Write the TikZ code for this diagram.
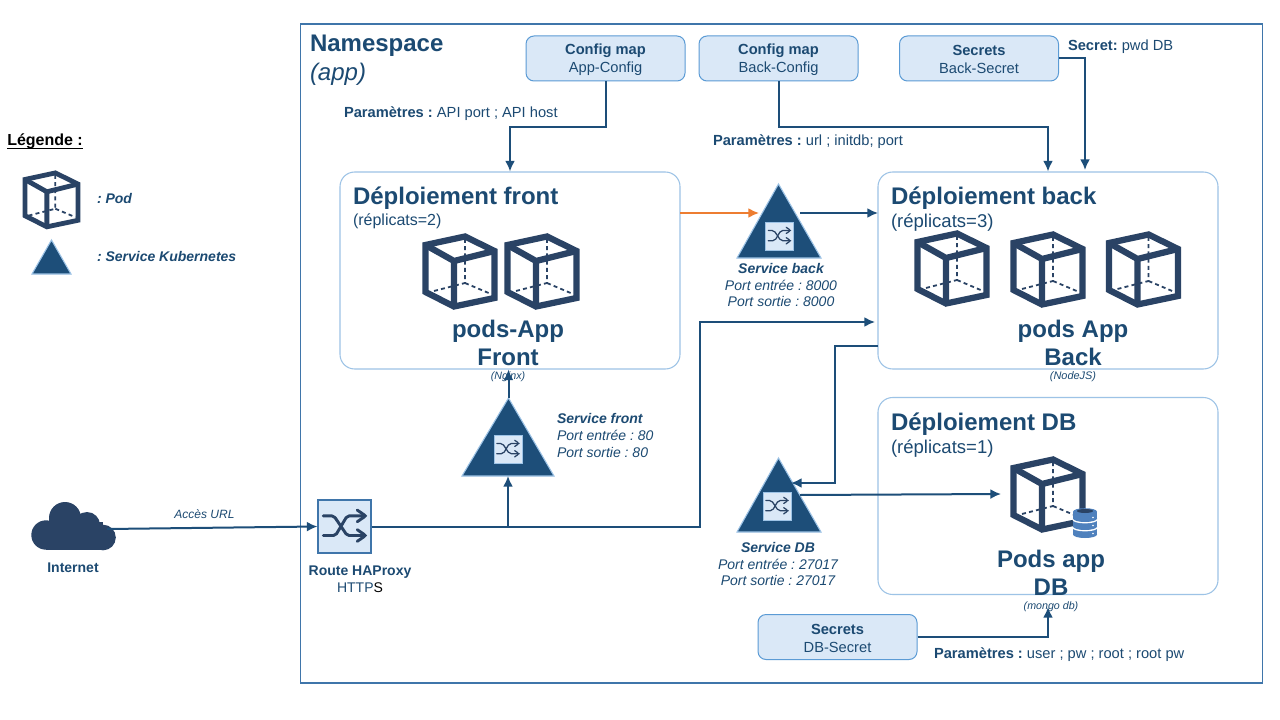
\documentclass[tikz,border=0pt]{standalone}
\usepackage{fontspec}
\setmainfont{Liberation Sans}
\usetikzlibrary{arrows.meta,calc}
\definecolor{ink}{HTML}{1C4A72}
\definecolor{podc}{HTML}{2A4365}
\definecolor{arrowc}{HTML}{1D4E79}
\definecolor{pale}{HTML}{DAE8F7}
\definecolor{edgeb}{HTML}{5B9BD5}
\definecolor{lightb}{HTML}{9DC3E6}
\definecolor{nsb}{HTML}{3F75AA}
\definecolor{orangec}{HTML}{ED7D31}
\definecolor{dbc}{HTML}{4F81BD}
\def\px{0.75pt}
\newcommand{\fsz}[2]{\fontsize{#1}{#2}\selectfont}
\newcommand{\lift}{\rule{0pt}{9.5pt}}
\frenchspacing
\tikzset{
  x=0.75pt,y=-0.75pt,
  txt/.style={text=ink,inner sep=0pt,outer sep=0pt},
  smallbox/.style={draw=edgeb,fill=pale,line width=0.75pt,rounded corners=6pt,minimum width=159*\px,minimum height=45*\px,inner sep=0pt,align=center,text=ink,font=\fsz{11}{13.5}},
  bigbox/.style={draw=lightb,fill=white,line width=0.8pt,rounded corners=11pt,minimum width=340*\px,inner sep=0pt},
  link/.style={draw=arrowc,line width=1.5pt,-{Latex[length=8pt,width=7.5pt]}},
  tri/.style={fill=arrowc,draw=lightb,line width=0.8pt,line join=miter},
  smallshuffle/.style={draw=lightb,fill=pale,line width=0.7pt,minimum size=28*\px,inner sep=0pt},
  cubepic/.pic={
    \begin{scope}[podc,line join=miter]
      \draw[line width=\pgfkeysvalueof{/tikz/cubelw}] (2.5,11)--(42,2.5)--(71.5,17)--(71.5,64)--(31,72.5)--(2.5,58)--cycle;
      \draw[line width=\pgfkeysvalueof{/tikz/cubelw}] (2.5,11)--(31,27)--(71.5,17) (31,27)--(31,72.5);
      \draw[line width=1.35pt,dash pattern=on 3pt off 2.4pt] (42,5)--(42,49)--(7,58) (42,49)--(68,60);
    \end{scope}
  },
  cubelw/.initial=4.7pt,
  shufflepic/.pic={
    \begin{scope}[podc,line cap=round,line join=round,rounded corners=1.5pt,line width=\pgfkeysvalueof{/tikz/shufflelw}]
      \draw (-.40,-.20)--(-.20,-.20)--(.05,.17)--(.40,.17);
      \draw (-.40,.17)--(-.17,.17)--(.05,-.20)--(.40,-.20);
      \draw (.24,-.31)--(.40,-.20)--(.24,-.09);
      \draw (.24,.06)--(.40,.17)--(.24,.28);
    \end{scope}
  },
  shufflelw/.initial=0.95pt,
}
\begin{document}
\begin{tikzpicture}
\useasboundingbox (0,0) rectangle (1280,720);
\fill[white] (0,0) rectangle (1280,720);

% namespace
\node[draw=nsb,line width=1pt,minimum width=962*\px,minimum height=659*\px,inner sep=0pt] (ns) at (781.5,353.5) {};
\node[txt,anchor=base west,font=\bfseries\fsz{18}{20}] (nstitle) at (310,51.5) {Namespace};
\node[txt,anchor=base west,font=\itshape\fsz{18}{20}] (nssub) at (310,80.5) {(app)};

% legend
\node[inner sep=0pt,anchor=base west,font=\bfseries\fsz{12}{14}] (legend) at (7,146) {Légende :};
\draw[black,line width=0.8pt] ($(legend.base west)+(0,2.5)$) -- ($(legend.base east)+(0,2.5)$);
\pic[scale=0.77,cubelw=3.6pt] at (23,171) {cubepic};
\node[txt,anchor=west,font=\bfseries\itshape\fsz{10.5}{12}] (legpod) at (97,198) {: Pod};
\draw[tri] (51.5,240)--(71,274)--(32,274)--cycle;
\node[txt,anchor=west,font=\bfseries\itshape\fsz{10.5}{12}] (legsvc) at (97,256) {: Service Kubernetes};

% top boxes
\node[smallbox] (cfgapp) at (605.5,58.5) {\lift\textbf{Config map}\\App-Config};
\node[smallbox] (cfgback) at (778.5,58.5) {\lift\textbf{Config map}\\Back-Config};
\node[smallbox] (secback) at (979,58.5) {\lift\textbf{Secrets}\\Back-Secret};
\node[smallbox] (secdb) at (837.5,637) {\lift\textbf{Secrets}\\DB-Secret};

% deployment boxes
\node[bigbox,minimum height=197*\px] (front) at (510,270.5) {};
\node[bigbox,minimum height=197*\px] (back) at (1048,270.5) {};
\node[bigbox,minimum height=197*\px] (db) at (1048,496) {};

\node[txt,anchor=base west,font=\bfseries\fsz{18}{20}] (fronttitle) at (353,205) {Déploiement front};
\node[txt,anchor=base west,font=\fsz{12}{14}] (frontsub) at (353,225) {(réplicats=2)};
\node[txt,anchor=base west,font=\bfseries\fsz{18}{20}] (backtitle) at (891,205) {Déploiement back};
\node[txt,anchor=base west,font=\fsz{13.9}{16}] (backsub) at (891,228) {(réplicats=3)};
\node[txt,anchor=base west,font=\bfseries\fsz{18}{20}] (dbtitle) at (891,430) {Déploiement DB};
\node[txt,anchor=base west,font=\fsz{13.9}{16}] (dbsub) at (891,453) {(réplicats=1)};

% pods
\pic at (423,234) {cubepic};
\pic at (505,234) {cubepic};
\pic at (915,231) {cubepic};
\pic at (1011,232) {cubepic};
\pic at (1106.5,232) {cubepic};
\pic at (1011,457) {cubepic};

% database icon
\foreach \yy in {534.5,526.5,518.5}{
  \fill[white] (1085,\yy+1.2) ellipse[x radius=12.6,y radius=3.7];
  \fill[dbc] (1085,\yy) ellipse[x radius=12,y radius=3.5];
  \fill[dbc] (1073,\yy-6.8) rectangle (1097,\yy);
  \fill[dbc] (1085,\yy-6.8) ellipse[x radius=12,y radius=3.5];
  \fill[white] (1093,\yy-1) circle[radius=.9];
}
\fill[podc] (1085,511) ellipse[x radius=8,y radius=2];

\node[txt,align=center,font=\bfseries\fsz{18}{21}] (fronttxt) at (508,342.5) {pods-App\\Front};
\node[txt,align=center,font=\bfseries\fsz{18}{21}] (backtxt) at (1073,342.5) {pods App\\Back};
\node[txt,align=center,font=\bfseries\fsz{18}{21}] (dbtxt) at (1051,572.5) {Pods app\\DB};
\node[txt,font=\itshape\fsz{8}{9}] (nginx) at (508,377) {(Nginx)};
\node[txt,font=\itshape\fsz{8.2}{9}] (nodejs) at (1073,377) {(NodeJS)};
\node[txt,font=\itshape\fsz{8}{9}] (mongo) at (1051,607) {(mongo db)};

% services
\draw[tri] (778.5,184)--(821,258)--(737,258)--cycle;
\node[smallshuffle] (svcback) at (779.5,236) {};
\pic[scale=28] at (svcback) {shufflepic};
\draw[tri] (508.5,398)--(554,476)--(462,476)--cycle;
\node[smallshuffle] (svcfront) at (508,449) {};
\pic[scale=28] at (svcfront) {shufflepic};
\draw[tri] (778.5,458)--(821,532)--(737,532)--cycle;
\node[smallshuffle] (svcdb) at (777,506) {};
\pic[scale=28] at (svcdb) {shufflepic};

\node[txt,align=center,font=\itshape\fsz{10.5}{12.4}] (svcbacktxt) at (781,285) {\textbf{Service back}\\Port entrée : 8000\\Port sortie : 8000};
\node[txt,align=left,anchor=west,font=\itshape\fsz{10.5}{12.9}] (svcfronttxt) at (557,435.5) {\textbf{Service front}\\Port entrée : 80\\Port sortie : 80};
\node[txt,align=center,font=\itshape\fsz{10.5}{12.4}] (svcdbtxt) at (778,564) {\textbf{Service DB}\\Port entrée : 27017\\Port sortie : 27017};

% route
\node[draw=nsb,fill=pale,line width=0.8pt,minimum size=53*\px,inner sep=0pt] (route) at (344.5,526.5) {};
\pic[scale=53,shufflelw=2.2pt] at (route) {shufflepic};
\node[txt,align=center,font=\fsz{10.5}{13}] (routetxt) at (360,579) {\textbf{Route HAProxy}\\HTTP{\color{black}S}};

% internet cloud
\fill[podc] (46,535) circle[radius=14.7] (65,518) circle[radius=16] (87,525) circle[radius=13] (103,537.5) circle[radius=12.8];
\fill[podc] (46,522) rectangle (103,550.3);
\coordinate (cloud) at (107,529);
\node[txt,font=\bfseries\fsz{10.5}{12}] (internet) at (73,568) {Internet};
\node[txt,font=\itshape\fsz{9}{11}] (acces) at (204.5,514) {Accès URL};

% parameter labels
\node[txt,anchor=west,font=\fsz{11}{13}] (p1) at (344,113.5) {\textbf{Paramètres :} API port ; API host};
\node[txt,anchor=west,font=\fsz{11}{13}] (p2) at (713,141.5) {\textbf{Paramètres :} url ; initdb; port};
\node[txt,anchor=west,font=\fsz{11}{13}] (p3) at (1068,46.5) {\textbf{Secret:} pwd DB};
\node[txt,anchor=west,font=\fsz{11}{13}] (p4) at (934,654.5) {\textbf{Paramètres :} user ; pw ; root ; root pw};

% connector ends
\coordinate (backsec) at (1085,170);
\coordinate (frontout) at (680,213);
\coordinate (svcbackin) at (759,213);
\coordinate (svcbackout) at (800,213);
\coordinate (backin) at (878,213);
\coordinate (fronttip) at (508.5,398);
\coordinate (frontbase) at (508,476);
\coordinate (bend) at (700,526.5);
\coordinate (backin2) at (875,322);
\coordinate (backout) at (878,346);
\coordinate (dbin) at (791,483);
\coordinate (dbout) at (800,495);
\coordinate (dbpod) at (1001,494);
\coordinate (dbsecin) at (1048,607);

% connectors
\draw[link] (cfgapp.south) -- ++(0,46) -| (front.north);
\draw[link] (cfgback.south) -- ++(0,46) -| (back.north);
\draw[link] (secback.east) -| (backsec);
\draw[link,draw=orangec] (frontout) -- (svcbackin);
\draw[link] (svcbackout) -- (backin);
\draw[link] (cloud) -- (route.west);
\draw[link] (route.east) -| (frontbase);
\draw[link] (route.east) -- (bend) |- (backin2);
\draw[link] (fronttip) -- (fronttip |- front.south);
\draw[link] (backout) -- (835,346) |- (dbin);
\draw[link] (dbout) -- (dbpod);
\draw[link] (secdb.east) -| (dbsecin);
\end{tikzpicture}
\end{document}
